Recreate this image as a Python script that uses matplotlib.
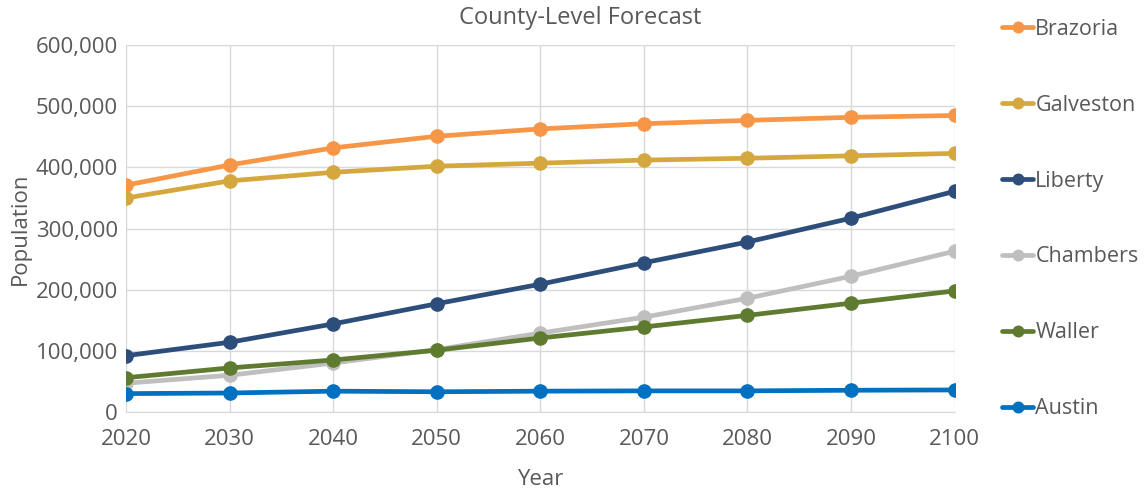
import matplotlib.pyplot as plt
from matplotlib.ticker import FuncFormatter

years = [2020, 2030, 2040, 2050, 2060, 2070, 2080, 2090, 2100]
brazoria  = [371000, 404000, 432000, 451000, 463000, 471500, 477000, 482000, 485000]
galveston = [350000, 378000, 392000, 402000, 407000, 412000, 415000, 419000, 423000]
liberty   = [92000, 114000, 144000, 177000, 209000, 244000, 278000, 317000, 361000]
chambers  = [47000, 60000, 80000, 102000, 129000, 155000, 186000, 222000, 263000]
waller    = [56000, 72000, 85000, 101000, 121000, 139000, 158000, 178000, 198000]
austin    = [30000, 31000, 34000, 33000, 34000, 34500, 34500, 35500, 36000]

series = [
    ("Brazoria",  brazoria,  "#f79646"),
    ("Galveston", galveston, "#d4a83f"),
    ("Liberty",   liberty,   "#2d4e7b"),
    ("Chambers",  chambers,  "#bfbfbf"),
    ("Waller",    waller,    "#5f7b30"),
    ("Austin",    austin,    "#0070c0"),
]

text_color = "#595959"
plt.rcParams["font.family"] = ["Open Sans", "DejaVu Sans"]

fig = plt.figure(figsize=(11.46, 4.91), dpi=100)
ax = fig.add_axes([0.110, 0.161, 0.723, 0.747])

for name, vals, col in series:
    ax.plot(years, vals, color=col, lw=3.4, marker="o", ms=9.5,
            label=name, solid_capstyle="round", zorder=3)

ax.set_xlim(2020, 2100)
ax.set_ylim(0, 600000)
ax.set_xticks(years)
ax.set_yticks(range(0, 600001, 100000))
ax.yaxis.set_major_formatter(FuncFormatter(lambda v, p: f"{int(v):,}"))
ax.grid(True, color="#d9d9d9", lw=1)
ax.set_axisbelow(True)
for s in ["top", "right", "left"]:
    ax.spines[s].set_visible(False)
ax.spines["bottom"].set_color("#d9d9d9")
ax.tick_params(length=0, labelsize=16, colors=text_color, pad=6)
ax.tick_params(axis="x", pad=12)

# chart title, centred over the whole chart like the spreadsheet does
fig.text(0.506, 0.963, "County-Level Forecast", fontsize=17, color=text_color,
         ha="center", va="center")
ax.set_xlabel("Year", fontsize=16, color=text_color, labelpad=14)
ax.set_ylabel("Population", fontsize=16, color=text_color, labelpad=3)

leg = fig.legend(loc="upper left", bbox_to_anchor=(0.863, 0.988), frameon=False,
                 fontsize=15.5, labelcolor=text_color, handlelength=1.45,
                 handletextpad=0.1, labelspacing=2.55, borderaxespad=0.2,
                 markerscale=0.8)

fig.savefig("out.png")
